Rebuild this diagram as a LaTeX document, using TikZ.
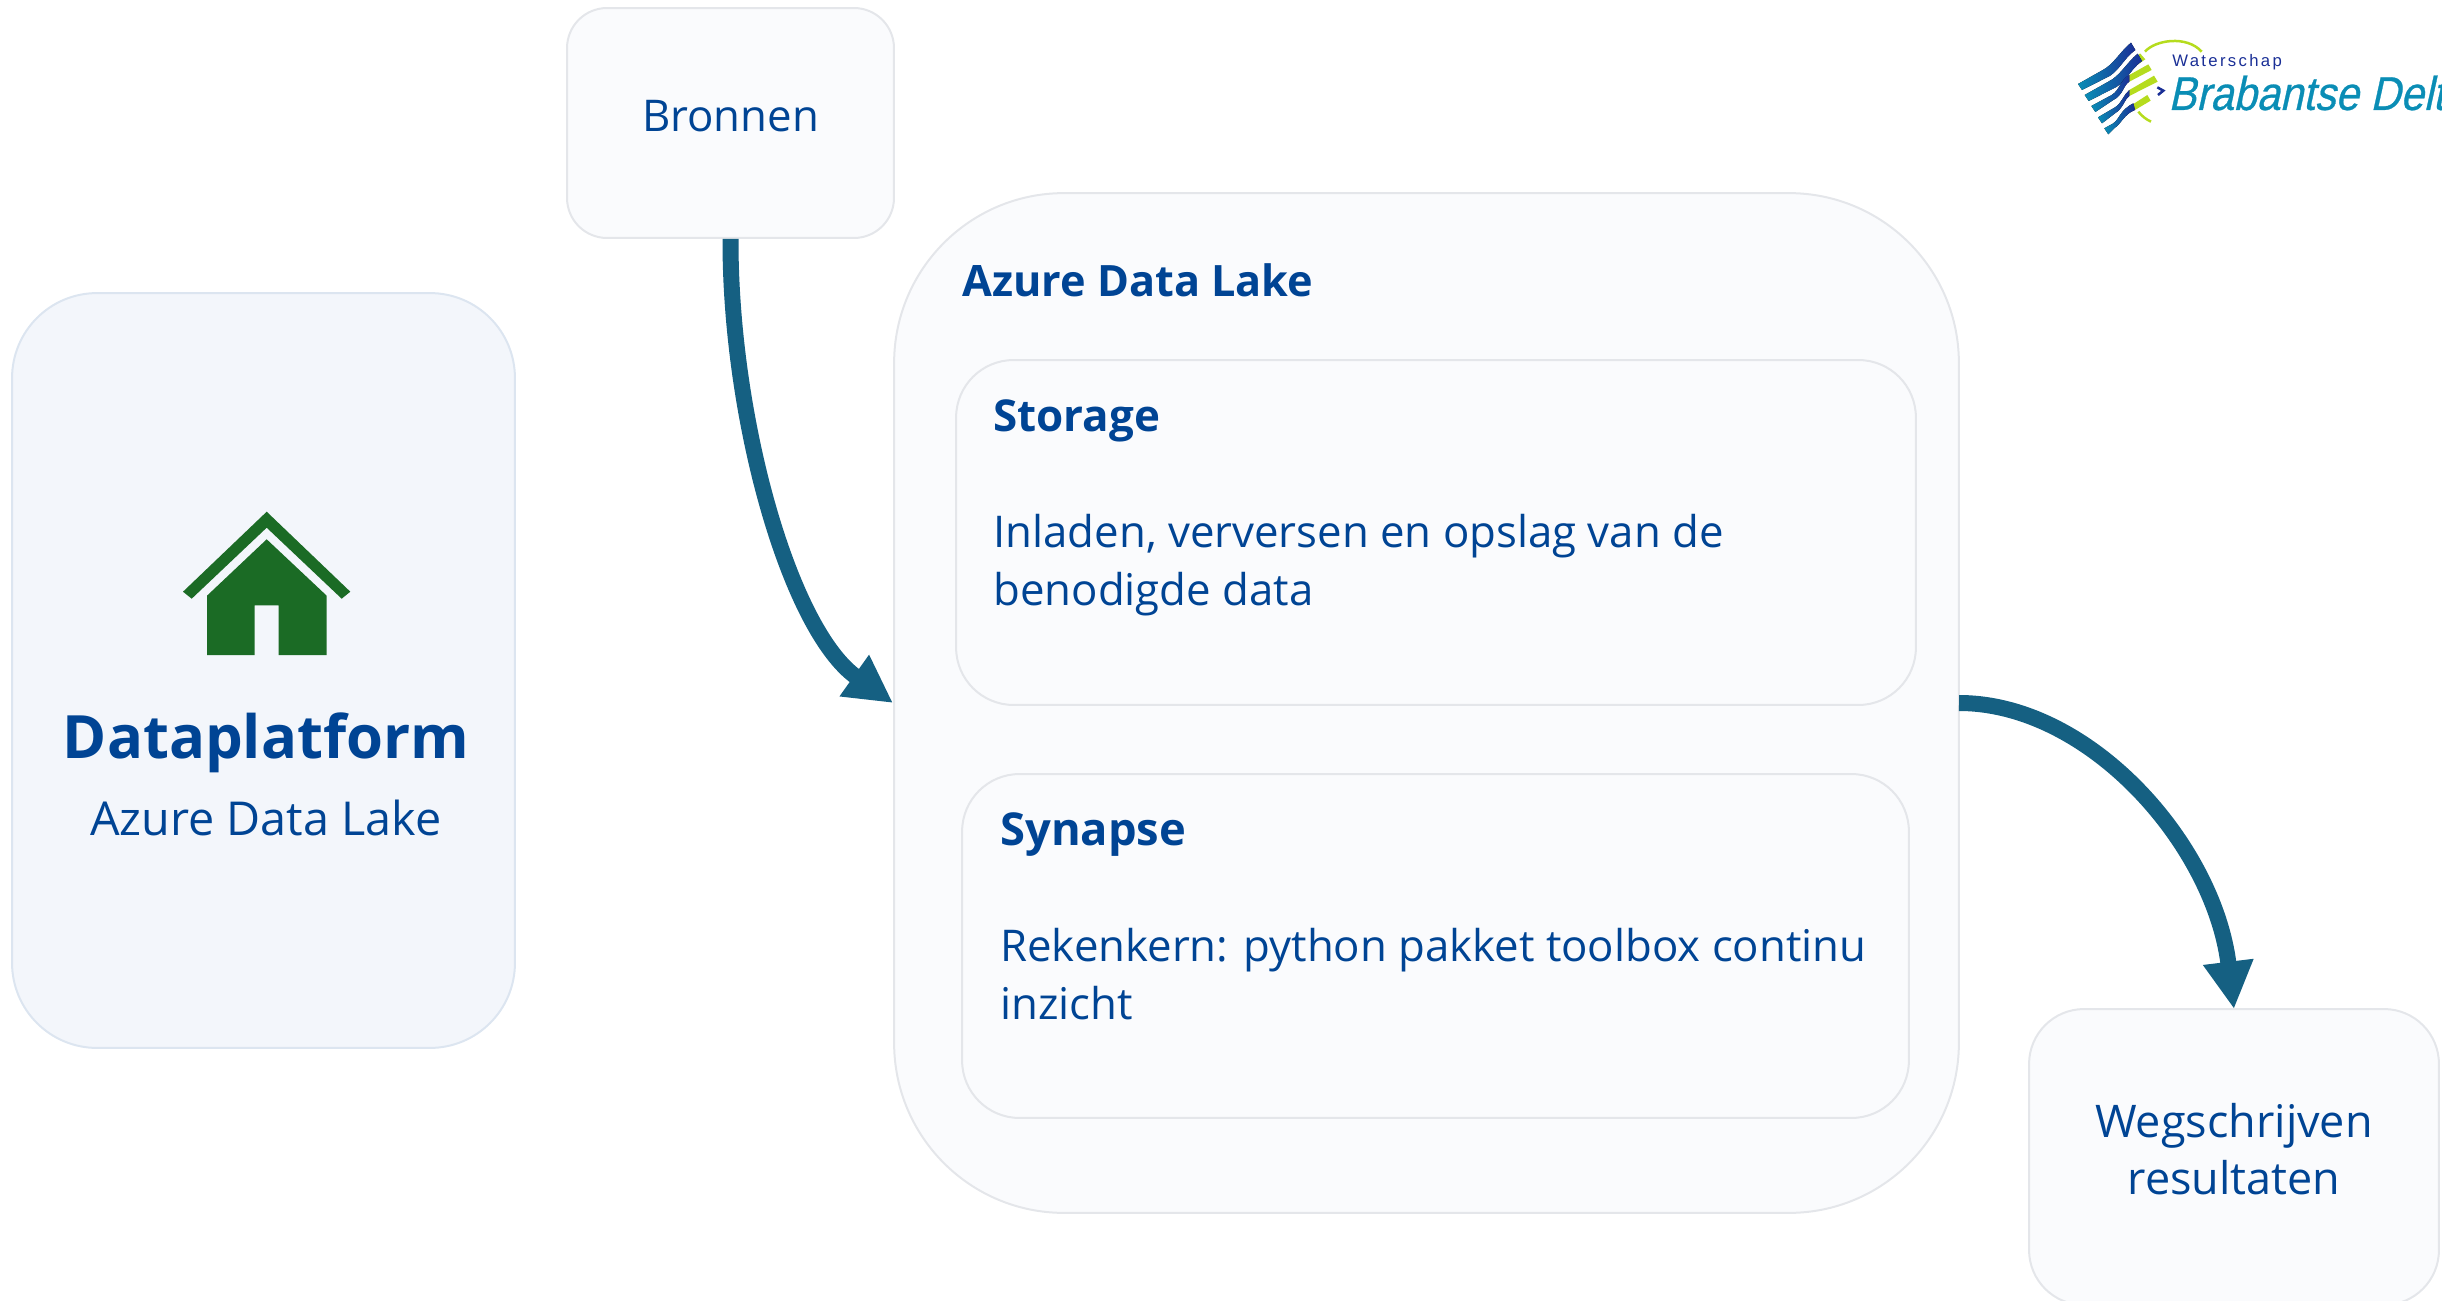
\documentclass[tikz,border=0pt]{standalone}
\usepackage{fontspec}
\usepackage{tikz}
\usepackage{xcolor}
\usetikzlibrary{arrows.meta}
\setmainfont{Open Sans}
\newfontfamily\logofont[FakeStretch=0.88,FakeSlant=0.22,FakeBold=0.6]{Liberation Sans}
\newfontfamily\logokleinfont[LetterSpace=14]{Liberation Sans}
\definecolor{inktblauw}{HTML}{004494}
\definecolor{pijlblauw}{HTML}{156082}
\definecolor{huisgroen}{HTML}{1B6B25}
\definecolor{vlakgrijs}{HTML}{FAFBFD}
\definecolor{randgrijs}{HTML}{E4E6EA}
\definecolor{vlakblauw}{HTML}{F3F6FB}
\definecolor{randblauw}{HTML}{DCE5F0}
\definecolor{logoteal}{HTML}{0A8DB5}
\definecolor{logonavy}{HTML}{1A2F96}
\definecolor{logolime}{HTML}{B5DC1E}
\tikzset{
    vak/.style={draw=randgrijs, fill=vlakgrijs, line width=0.04cm, inner sep=0pt},
    tekst/.style={text=inktblauw, font=\fontsize{24.9}{32.7}\selectfont, inner sep=0pt},
    kop/.style={tekst, font=\fontsize{25}{32.7}\selectfont\bfseries},
    pijl/.style={draw=pijlblauw, line width=0.32cm, -{Triangle[length=0.95cm, width=0.95cm]}},
    golf/.style={left color=logoteal, right color=logonavy}
}

\begin{document}
\begin{tikzpicture}[x=0.02cm, y=-0.02cm]
    \useasboundingbox (0, 0) rectangle (2442, 1301);

    \node[vak, draw=randblauw, fill=vlakblauw, rounded corners=1.7cm, minimum width=10.06cm, minimum height=15.1cm] (platform) at (263.5, 670.5) {};
    \node[vak, rounded corners=0.8cm, minimum width=6.54cm, minimum height=4.6cm] (bronnen) at (730.5, 123) {};
    \node[vak, rounded corners=3.4cm, minimum width=21.3cm, minimum height=20.4cm] (lake) at (1426.5, 703) {};
    \node[vak, rounded corners=1.15cm, minimum width=19.2cm, minimum height=6.9cm] (storage) at (1436, 532.5) {};
    \node[vak, rounded corners=1.15cm, minimum width=18.94cm, minimum height=6.88cm] (synapse) at (1435.5, 946) {};
    \node[vak, rounded corners=1.1cm, minimum width=8.2cm, minimum height=5.92cm] (weg) at (2234, 1157) {};

    % huis
    \fill[huisgroen] (266.7, 511.7) -- (350.3, 591.7) -- (341.7, 598.7) -- (266.7, 527.7) -- (191.7, 598.7) -- (183, 591.7) -- cycle;
    \fill[huisgroen] (266.7, 539.3) -- (326.7, 595.7) -- (326.7, 655) -- (278.7, 655) -- (278.7, 605.3) -- (254.7, 605.3) -- (254.7, 655) -- (207, 655) -- (207, 595.7) -- cycle;

    \node[kop, font=\fontsize{34}{40}\selectfont\bfseries] (platformkop) at (266, 743) {Dataplatform};
    \node[tekst, font=\fontsize{26.6}{32.7}\selectfont] (platformtekst) at (266, 818) {Azure Data Lake};
    \node[tekst] (bronnentekst) at (730.5, 116) {Bronnen};
    \node[kop, font=\fontsize{24.6}{32.7}\selectfont\bfseries, anchor=west] (lakekop) at (962, 280) {Azure Data Lake};
    \node[kop, anchor=west] (storagekop) at (993, 421) {Storage};
    \node[tekst, anchor=north west, align=left] (storagetekst) at (993, 514) {Inladen, verversen en opslag van de\\benodigde data};
    \node[kop, font=\fontsize{25.8}{32.7}\selectfont\bfseries, anchor=west] (synapsekop) at (1000, 835) {Synapse};
    \node[tekst, anchor=north west, align=left] (synapsetekst) at (1000, 928) {Rekenkern: python pakket toolbox continu\\inzicht};
    \node[tekst, font=\fontsize{25.6}{32.7}\selectfont, align=center] (wegtekst) at (2234, 1149) {Wegschrijven\\resultaten};

    \coordinate (bronnenin) at (893, 703);
    \coordinate (lakeuit) at (1959, 703);
    \coordinate (wegin) at (2234, 1009);
    \draw[pijl] (bronnen.south) .. controls (730, 420) and (790, 630) .. (bronnenin);
    \draw[pijl] (lakeuit) .. controls (2090, 703) and (2214, 845) .. (wegin);

    % logo
    \begin{scope}[shift={(2070, 30)}, x=0.00667cm, y=-0.00667cm]
        \fill[logolime] (190, 100) -- (210, 70) -- (226, 88) -- (185, 115) -- cycle;
        \fill[logolime] (178, 135) -- (235, 103) -- (245, 120) -- (178, 155) -- cycle;
        \fill[logolime] (178, 180) -- (252, 137) -- (263, 155) -- (178, 198) -- cycle;
        \fill[logolime] (190, 222) -- (232, 195) -- (242, 212) -- (195, 240) -- cycle;
        \foreach \dx/\dy in {0/0, 20/33} {
            \fill[golf, shift={(\dx, \dy)}] (24, 162) -- (95, 122) .. controls (130, 105) and (150, 65) .. (183, 38) -- (196, 60) .. controls (160, 85) and (145, 130) .. (105, 145) -- (36, 180) -- cycle;
        }
        \fill[golf] (64, 228) -- (125, 195) .. controls (150, 180) and (150, 150) .. (178, 135) -- (178, 155) .. controls (160, 165) and (160, 195) .. (130, 210) -- (76, 246) -- cycle;
        \fill[golf] (84, 262) -- (135, 232) .. controls (155, 220) and (160, 195) .. (178, 180) -- (178, 198) .. controls (165, 205) and (160, 235) .. (135, 250) -- (96, 280) -- cycle;
        \fill[golf] (103, 295) -- (130, 280) .. controls (150, 265) and (150, 240) .. (190, 220) -- (195, 240) .. controls (165, 250) and (150, 285) .. (135, 293) -- (115, 313) -- cycle;
        \draw[logolime, line width=0.05cm] (225, 65) .. controls (255, 30) and (350, 15) .. (395, 65);
        \draw[logolime, line width=0.05cm] (205, 245) .. controls (215, 258) and (228, 268) .. (243, 275);
        \draw[logonavy, line width=0.05cm] (262, 172) -- (280, 182) -- (264, 195);
    \end{scope}
    \node[text=logonavy, anchor=west, inner sep=0pt, font=\fontsize{9.5}{11}\logokleinfont] (logokop) at (2172, 62) {Waterschap};
    \node[text=logoteal, anchor=west, inner sep=0pt, font=\fontsize{27}{28}\logofont] (logotekst) at (2168, 93) {Brabantse Delt};
\end{tikzpicture}
\end{document}
